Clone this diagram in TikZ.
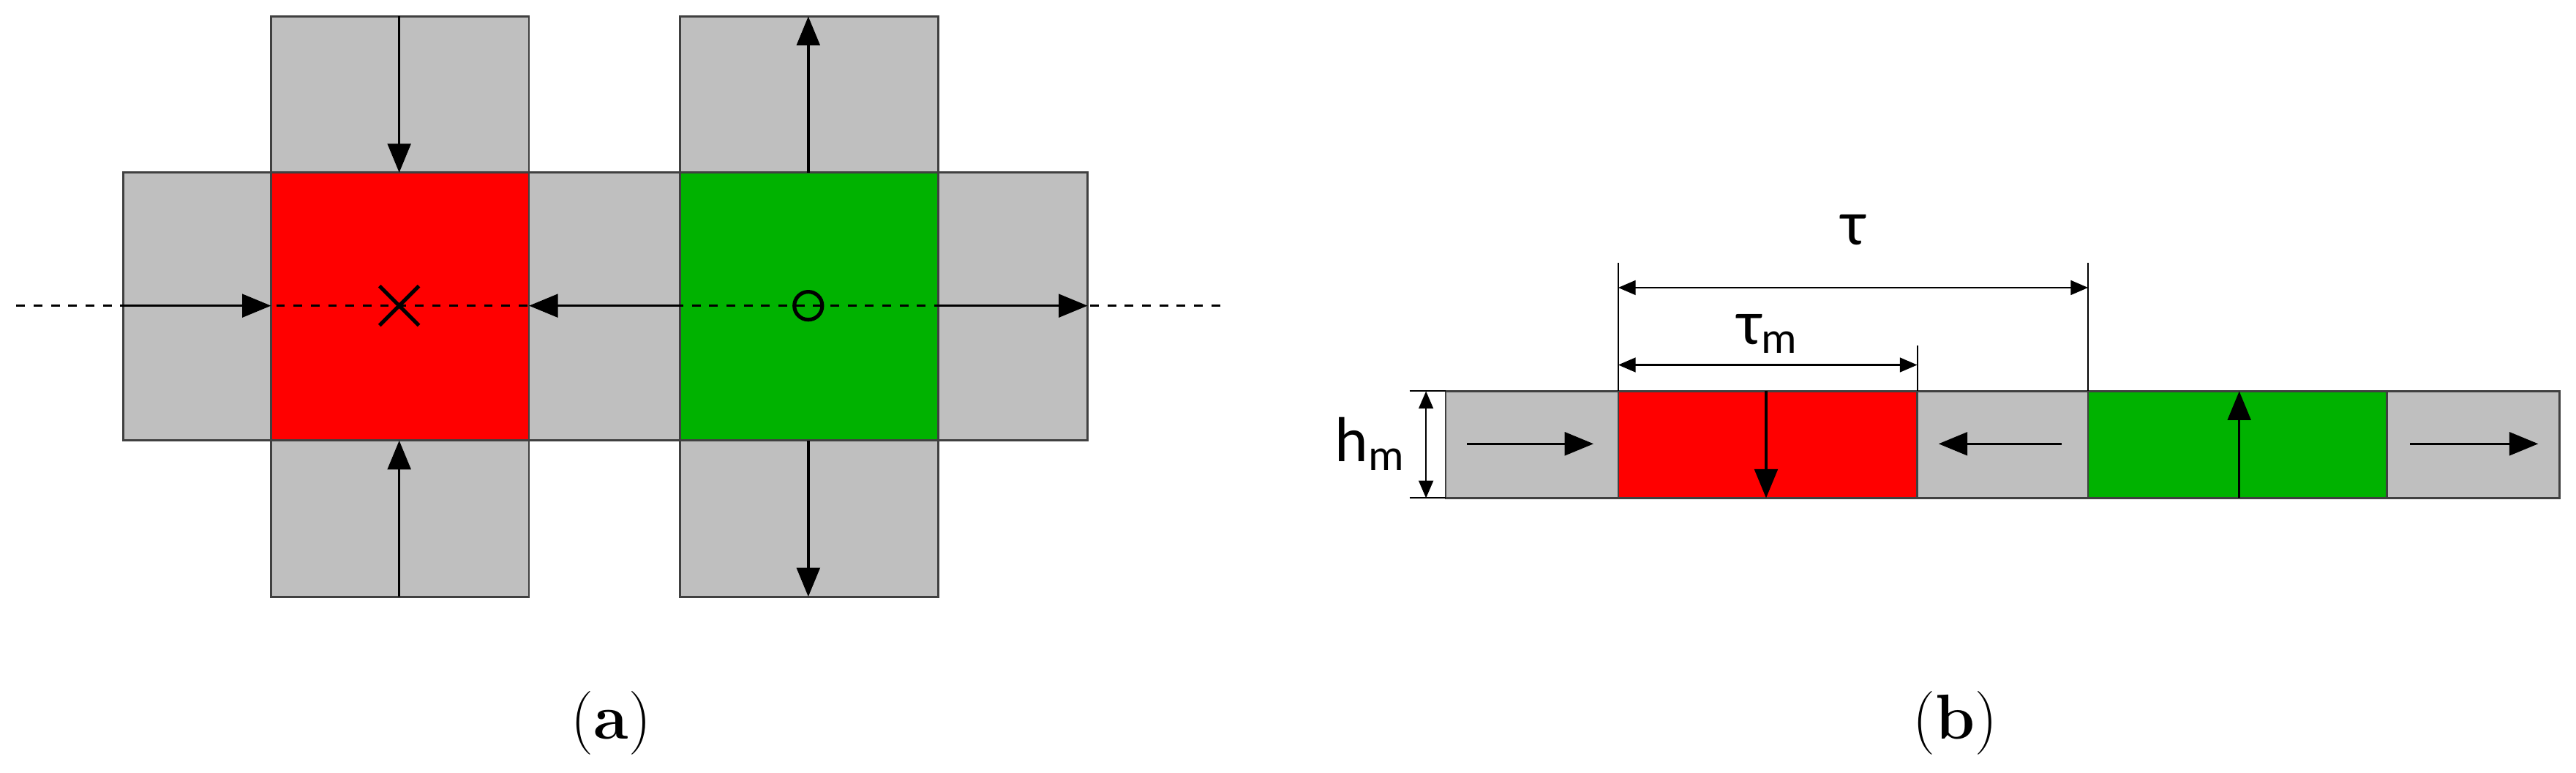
\documentclass[tikz,border=0pt]{standalone}
\usepackage{fontspec}
\newfontfamily\lab{Carlito}
\usetikzlibrary{arrows.meta}
\begin{document}
\begin{tikzpicture}[x=0.02cm,y=-0.02cm,
 cell/.style={draw=black!75,line width=0.7pt},
 gr/.style={cell,fill=black!25},
 rd/.style={cell,fill=red},
 gn/.style={cell,fill=green!60!black!85!white,fill=green!70!black},
 ar/.style={line width=0.9pt,-{Triangle[length=10pt,width=8pt]}},
 dim/.style={line width=0.6pt,{Triangle[length=6pt,width=5pt]}-{Triangle[length=6pt,width=5pt]}},
 ext/.style={line width=0.5pt},
 lbl/.style={font=\lab\fontsize{22}{24}\selectfont}]
\useasboundingbox (0,0) rectangle (1568,470);
% (a)
\path[gr] (165,10) rectangle (322,105);
\path[gr] (414,10) rectangle (571,105);
\path[gr] (75,105) rectangle (165,268);
\path[rd] (165,105) rectangle (322,268);
\path[gr] (322,105) rectangle (414,268);
\path[gn] (414,105) rectangle (571,268);
\path[gr] (571,105) rectangle (662,268);
\path[gr] (165,268) rectangle (322,363);
\path[gr] (414,268) rectangle (571,363);
\coordinate (dl) at (10,186); \coordinate (dr) at (745,186);
\draw[dashed,line width=0.8pt] (dl) -- (dr);
\coordinate (t1) at (243,10); \coordinate (t1e) at (243,105);
\draw[ar] (t1) -- (t1e);
\coordinate (b1) at (243,363); \coordinate (b1e) at (243,268);
\draw[ar] (b1) -- (b1e);
\coordinate (l1) at (75,186); \coordinate (l1e) at (165,186);
\draw[ar] (l1) -- (l1e);
\coordinate (m1) at (414,186); \coordinate (m1e) at (322,186);
\draw[ar] (m1) -- (m1e);
\coordinate (r1) at (571,186); \coordinate (r1e) at (662,186);
\draw[ar] (r1) -- (r1e);
\coordinate (t2) at (492,105); \coordinate (t2e) at (492,10);
\draw[ar] (t2) -- (t2e);
\coordinate (b2) at (492,268); \coordinate (b2e) at (492,363);
\draw[ar] (b2) -- (b2e);
\draw[line width=1.3pt] (231,174) -- (255,198) (231,198) -- (255,174);
\draw[line width=1.3pt] (492,186) circle (8.5);
\node[font=\fontsize{22}{24}\selectfont] (ca) at (372,440) {(\textbf{a})};
% (b)
\path[gr] (880,238) rectangle (985,303);
\path[rd] (985,238) rectangle (1167,303);
\path[gr] (1167,238) rectangle (1271,303);
\path[gn] (1271,238) rectangle (1453,303);
\path[gr] (1453,238) rectangle (1558,303);
\draw[ar] (893,270) -- (970,270);
\draw[ar] (1075,238) -- (1075,303);
\draw[ar] (1255,270) -- (1180,270);
\draw[ar] (1363,303) -- (1363,238);
\draw[ar] (1467,270) -- (1545,270);
\draw[ext] (985,160) -- (985,238) (1271,160) -- (1271,238) (1167,210) -- (1167,238);
\draw[dim] (985,175) -- (1271,175);
\draw[dim] (985,222) -- (1167,222);
\draw[ext] (858,238) -- (880,238) (858,303) -- (880,303);
\draw[dim] (868,238) -- (868,303);
\node[lbl] (tau) at (1128,140) {τ};
\node[lbl] (taum) at (1076,203) {τ\textsubscript{m}};
\node[lbl] (hm) at (834,270) {h\textsubscript{m}};
\node[font=\fontsize{22}{24}\selectfont] (cb) at (1190,440) {(\textbf{b})};
\end{tikzpicture}
\end{document}
